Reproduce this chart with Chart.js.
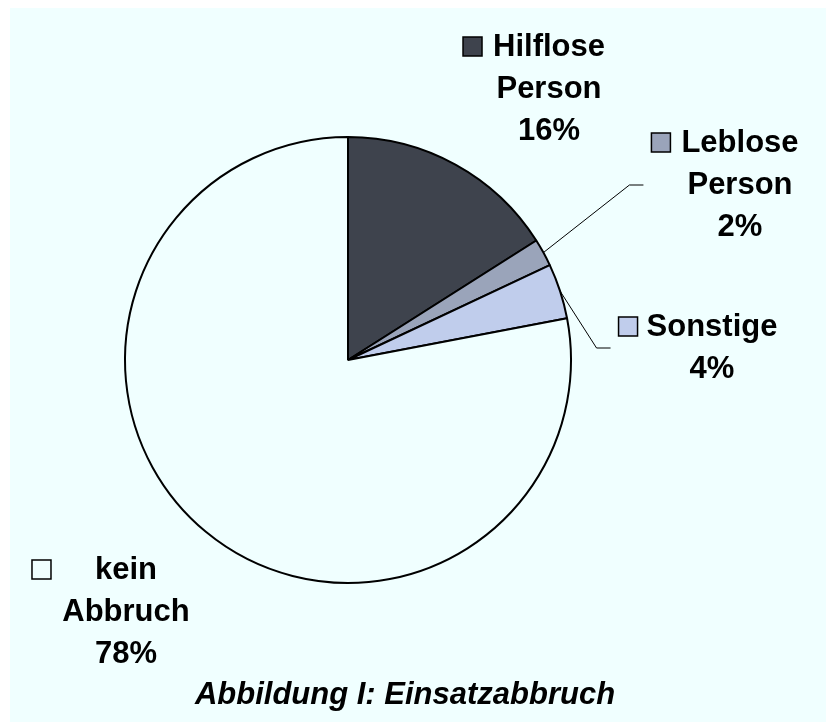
<!DOCTYPE html>
<html>
<head>
<meta charset="utf-8">
<script src="https://cdn.jsdelivr.net/npm/chart.js@4.4.0/dist/chart.umd.min.js"></script>
<style>
    html, body { margin: 0; padding: 0; background: #fff; }
    canvas { display: block; }
</style>
</head>
<body>
<canvas id="einsatz-chart" width="826" height="724"></canvas>
<script>
// data
const categories = ["Hilflose Person", "Leblose Person", "Sonstige", "kein Abbruch"];
const labelLines = [["Hilflose", "Person"], ["Leblose", "Person"], ["Sonstige"], ["kein", "Abbruch"]];
const shares = [16, 2, 4, 78];
const sliceColors = ["#3e434d", "#9aa4ba", "#c0cdec", "#f0ffff"];
const title = "Abbildung I: Einsatzabbruch";

// where the labels sit (centre x of text block, y of first line)
const labelLayout = [
    { x: 549, y: 47, keyGap: 11, leader: false },
    { x: 740, y: 143, keyGap: 11, leader: true },
    { x: 712, y: 327, keyGap: 9, leader: true },
    { x: 126, y: 570, keyGap: 44, leader: false },
];

const bgPlugin = {
    id: "bg",
    beforeDraw(chart) {
        const ctx = chart.ctx;
        ctx.save();
        ctx.fillStyle = "#ffffff";
        ctx.fillRect(0, 0, chart.width, chart.height);
        ctx.fillStyle = "#f0ffff";
        ctx.fillRect(10, 8, chart.width - 10, chart.height - 10);
        ctx.restore();
    },
};

const labelPlugin = {
    id: "sliceLabels",
    afterDatasetsDraw(chart) {
        const ctx = chart.ctx;
        const arcs = chart.getDatasetMeta(0).data;
        const lineH = 42;
        const key = 19;
        ctx.save();
        ctx.font = "bold 31px 'Liberation Sans', Arial, sans-serif";
        ctx.textAlign = "center";
        ctx.textBaseline = "middle";
        arcs.forEach((arc, i) => {
            const pos = labelLayout[i];
            const lines = labelLines[i].concat([shares[i] + "%"]);
            const w0 = ctx.measureText(lines[0]).width;
            const kx = pos.x - w0 / 2 - pos.keyGap - key;

            if (pos.leader) {
                const mid = (arc.startAngle + arc.endAngle) / 2;
                const sx = arc.x + Math.cos(mid) * arc.outerRadius;
                const sy = arc.y + Math.sin(mid) * arc.outerRadius;
                const endX = kx - 8;
                const midY = pos.y + (lines.length - 1) * lineH / 2;
                ctx.beginPath();
                ctx.moveTo(sx, sy);
                ctx.lineTo(endX - 14, midY);
                ctx.lineTo(endX, midY);
                ctx.strokeStyle = "#000";
                ctx.lineWidth = 1;
                ctx.stroke();
            }

            ctx.fillStyle = "#000";
            lines.forEach((t, k) => {
                ctx.fillText(t, pos.x, pos.y + k * lineH);
            });

            ctx.fillStyle = sliceColors[i];
            ctx.fillRect(kx, pos.y - 10, key, key);
            ctx.strokeStyle = "#000";
            ctx.lineWidth = 1.5;
            ctx.strokeRect(kx, pos.y - 10, key, key);
        });

        ctx.fillStyle = "#000";
        ctx.font = "italic bold 31px 'Liberation Sans', Arial, sans-serif";
        ctx.fillText(title, 405, 695);
        ctx.restore();
    },
};

// config
const config = {
    type: "pie",
    data: {
        labels: categories,
        datasets: [
            {
                data: shares,
                backgroundColor: sliceColors,
                borderColor: "#000",
                borderWidth: 2,
                hoverOffset: 0,
            },
        ],
    },
    options: {
        responsive: false,
        animation: false,
        events: [],
        radius: 223,
        layout: {
            padding: { left: 10, right: 140, top: 8, bottom: 12 },
        },
        plugins: {
            legend: { display: false },
            tooltip: { enabled: false },
        },
    },
    plugins: [bgPlugin, labelPlugin],
};

const einsatzChart = new Chart(document.getElementById("einsatz-chart"), config);
</script>
</body>
</html>
